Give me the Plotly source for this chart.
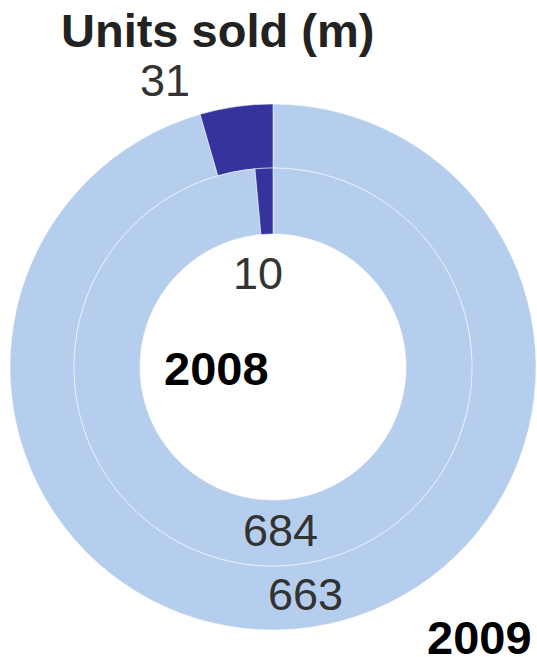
import math
import plotly.graph_objects as go

# Units sold (millions) per year: [highlighted segment, rest]
segments = ["Highlighted", "Other"]
units_2008 = [10, 684]
units_2009 = [31, 663]
year_labels = ["2008", "2009"]

DARK = "#36349c"
LIGHT = "#b6ceed"
W, H = 537, 657

# ring geometry in pixels
CX, CY = 273, 367
R_OUT, R_MID, R_IN = 263, 199, 133


def px(x, y):
    """pixel position -> paper coordinates"""
    return x / W, 1 - y / H


def domain(r):
    x0, y1 = px(CX - r, CY - r)
    x1, y0 = px(CX + r, CY + r)
    return dict(x=[x0, x1], y=[y0, y1])


def mid_point(values, idx, r):
    """centre of a slice laid out counter-clockwise from 12 o'clock"""
    total = sum(values)
    start = sum(values[:idx]) / total * 360
    mid = start + values[idx] / total * 360 / 2
    a = math.radians(-mid)
    return CX + r * math.sin(a), CY - r * math.cos(a)


fig = go.Figure()
for values, r_outer, r_inner in [(units_2009, R_OUT, R_MID), (units_2008, R_MID, R_IN)]:
    # clockwise from 12 o'clock with the order reversed, so the highlighted
    # segment ends up just left of the top
    fig.add_trace(go.Pie(
        labels=segments[::-1], values=values[::-1], sort=False, direction="clockwise",
        rotation=0, hole=r_inner / r_outer, domain=domain(r_outer),
        marker=dict(colors=[LIGHT, DARK], line=dict(color="white", width=0.5)),
        textinfo="none", hoverinfo="label+value", showlegend=False,
    ))

num_font = dict(family="Liberation Sans, Arial, sans-serif", size=45, color="#333333")
bold_font = dict(family="Liberation Sans, Arial, sans-serif", size=47, color="#000000")

annotations = []


def add_text(text, x, y, font):
    xp, yp = px(x, y)
    annotations.append(dict(text=text, x=xp, y=yp, xref="paper", yref="paper",
                            showarrow=False, font=font, xanchor="center", yanchor="middle"))


# large segments: labels at the ring centre line
x, y = mid_point(units_2009, 1, (R_OUT + R_MID) / 2)
add_text(str(units_2009[1]), x, y - 1, num_font)
x, y = mid_point(units_2008, 1, (R_MID + R_IN) / 2)
add_text(str(units_2008[1]), x, y - 2, num_font)
# small segments: labels just outside / inside the rings
add_text(str(units_2009[0]), 165, 80, num_font)
add_text(str(units_2008[0]), 258, 273, num_font)

# year labels
add_text("<b>%s</b>" % year_labels[0], 216, 368, bold_font)
add_text("<b>%s</b>" % year_labels[1], 479, 637, bold_font)

# title
add_text("<b>Units sold (m)</b>", 217, 31,
         dict(family="Liberation Sans, Arial, sans-serif", size=47, color="#222222"))

fig.update_layout(
    width=W, height=H, margin=dict(l=0, r=0, t=0, b=0),
    paper_bgcolor="white", plot_bgcolor="white",
    annotations=annotations,
)

fig.write_html("out.html")
